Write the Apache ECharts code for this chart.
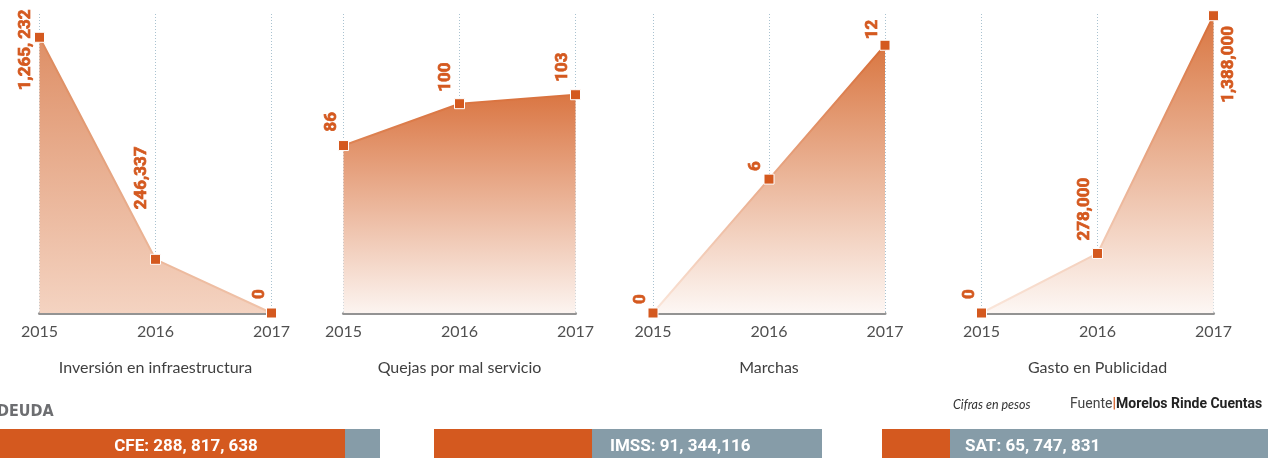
<!DOCTYPE html>
<html><head><meta charset="utf-8">
<script src="https://cdn.jsdelivr.net/npm/echarts@6/dist/echarts.min.js"></script>
<style>html,body{margin:0;padding:0;background:#fff;overflow:hidden}#c{width:1281px;height:458px}</style>
</head><body><div id="c"></div>
<script>
// ---------- DATA ----------
const years = ['2015', '2016', '2017'];
const chartTitles = ['Inversión en infraestructura', 'Quejas por mal servicio', 'Marchas', 'Gasto en Publicidad'];
const inversion = [1265232, 246337, 0];
const quejas = [86, 100, 103];
const marchas = [0, 6, 12];
const gasto = [0, 278000, 1388000];
const inversionLabels = ['1,265, 232', '246,337', '0'];
const quejasLabels = ['86', '100', '103'];
const marchasLabels = ['0', '6', '12'];
const gastoLabels = ['0', '278,000', '1,388,000'];
const deudaNames = ['CFE', 'IMSS', 'SAT'];
const deudaValues = [288817638, 91344116, 65747831];
const deudaLabels = ['CFE: 288, 817, 638', 'IMSS: 91, 344,116', 'SAT: 65, 747, 831'];
const headingText = 'DEUDA';
const noteText = 'Cifras en pesos';
const sourceLabel = 'Fuente';
const sourceName = 'Morelos Rinde Cuentas';

// ---------- STYLE ----------
const ORANGE = '#d4591f';
const GREYBLUE = '#869ca8';
const BOLDF = 'Roboto, "Liberation Sans", sans-serif';
const COND = '"DejaVu Sans Condensed", "DejaVu Sans", sans-serif';
const LIGHT = 'Lato, "Open Sans", sans-serif';
const seriesValues = [inversion, quejas, marchas, gasto];
const seriesLabels = [inversionLabels, quejasLabels, marchasLabels, gastoLabels];
const panelStyle = [
  { left: 39.5, min: 0, max: 1372000, top: '#de8f66', bottom: '#f4d3c1', lTop: '#dc8658', lBottom: '#f0c4ab',
    offs: [[-14, 53], [-14, -50], [-12, -14]] },
  { left: 343.5, min: 30, max: 130, top: '#da7643', bottom: '#fcf4f0', lTop: '#d9713d', lBottom: '#de8556',
    offs: [[-12, -14], [-14, -12], [-13, -13]] },
  { left: 653, min: 0, max: 13.4, top: '#d97641', bottom: '#fdf7f4', lTop: '#d66a33', lBottom: '#fbe8dd',
    offs: [[-12, -9], [-13, -8], [-12, -6]] },
  { left: 981.5, min: 0, max: 1396000, top: '#d97641', bottom: '#fdf7f4', lTop: '#d66a33', lBottom: '#fbe8dd',
    offs: [[-12, -14], [-13, -13], [15, 87]] }
];
const barStyle = [
  { left: 0, width: 380, max: 318100000, pos: 'inside', dist: 0, off: [13.5, 3] },
  { left: 434, width: 388, max: 224300000, pos: 'right', dist: 18, off: [0, 3] },
  { left: 882, width: 386, max: 373200000, pos: 'right', dist: 15, off: [0, 3] }
];
const PANEL_TOP = 14, PANEL_H = 299, PANEL_W = 232;

const grid = [], xAxis = [], yAxis = [], series = [];
panelStyle.forEach((p, i) => {
  grid.push({ left: p.left, top: PANEL_TOP, width: PANEL_W, height: PANEL_H });
  xAxis.push({
    gridIndex: i, type: 'category', data: years, boundaryGap: false,
    axisLine: { lineStyle: { color: '#939393', width: 3 } },
    axisTick: { show: false },
    axisLabel: { color: '#505050', fontSize: 16, fontFamily: LIGHT, margin: 11 },
    splitLine: { show: true, lineStyle: { color: '#a9c2d0', type: [1, 2], width: 1 } },
    name: chartTitles[i], nameLocation: 'middle', nameGap: 47,
    nameTextStyle: { color: '#404040', fontSize: 16, fontFamily: LIGHT }
  });
  yAxis.push({ gridIndex: i, type: 'value', min: p.min, max: p.max, show: false, splitLine: { show: false } });
  const vals = seriesValues[i], labs = seriesLabels[i];
  series.push({
    type: 'line', xAxisIndex: i, yAxisIndex: i,
    data: vals.map((v, j) => ({
      value: v,
      label: { offset: [-p.offs[j][1], p.offs[j][0]] }
    })),
    symbol: 'rect', symbolSize: 10, showAllSymbol: true,
    itemStyle: { color: ORANGE, borderColor: '#fff', borderWidth: 1 },
    lineStyle: { width: 2, color: { type: 'linear', x: 0, y: 0, x2: 0, y2: 1,
      colorStops: [{ offset: 0, color: p.lTop }, { offset: 1, color: p.lBottom }] } },
    areaStyle: { opacity: 1, color: { type: 'linear', x: 0, y: 0, x2: 0, y2: 1,
      colorStops: [{ offset: 0, color: p.top }, { offset: 1, color: p.bottom }] } },
    label: {
      show: true, position: 'inside', rotate: 90, align: 'left', verticalAlign: 'middle',
      color: ORANGE, fontFamily: BOLDF, fontWeight: 'bold', fontSize: 17,
      textBorderColor: ORANGE, textBorderWidth: 0.7,
      formatter: (prm) => labs[prm.dataIndex]
    },
    emphasis: { disabled: true }, z: 3
  });
});

barStyle.forEach((b, k) => {
  const gi = panelStyle.length + k;
  grid.push({ left: b.left, width: b.width, top: 429, height: 32 });
  xAxis.push({ gridIndex: gi, type: 'value', min: 0, max: b.max, show: false, splitLine: { show: false } });
  yAxis.push({ gridIndex: gi, type: 'category', data: [deudaNames[k]], show: false });
  series.push({
    type: 'bar', xAxisIndex: gi, yAxisIndex: gi, barWidth: '100%',
    data: [deudaValues[k]],
    itemStyle: { color: ORANGE },
    showBackground: true, backgroundStyle: { color: GREYBLUE },
    label: {
      show: true, position: b.pos, distance: b.dist, offset: b.off,
      color: '#fff', fontFamily: BOLDF, fontWeight: 'bold', fontSize: 17,
      formatter: () => deudaLabels[k]
    },
    emphasis: { disabled: true }
  });
});

const chart = echarts.init(document.getElementById('c'), null, { renderer: 'canvas' });
chart.setOption({
  animation: false,
  backgroundColor: '#fff',
  grid, xAxis, yAxis, series,
  graphic: [
    { type: 'text', left: -3, top: 404, style: { text: headingText, font: 'bold 16px ' + COND, fill: '#6d6e71' } },
    { type: 'text', left: 953, top: 398, style: { text: noteText, font: 'italic 12.5px ' + LIGHT, fill: '#333' } },
    { type: 'text', left: 1070, top: 397, style: {
        text: '{a|' + sourceLabel + '}{b||}{c|' + sourceName + '}',
        rich: {
          a: { font: '14px ' + BOLDF, fill: '#444' },
          b: { font: 'bold 14px ' + BOLDF, fill: ORANGE },
          c: { font: 'bold 14px ' + BOLDF, fill: '#222' }
        }
      } }
  ]
});
</script></body></html>
